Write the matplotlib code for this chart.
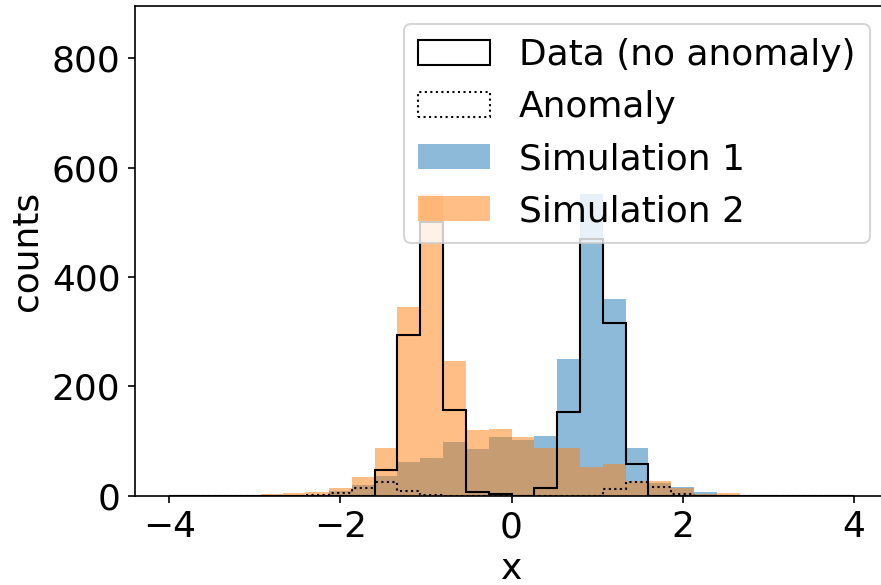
import numpy as np
import matplotlib
matplotlib.use("Agg")
import matplotlib.pyplot as plt

# 30 equal bins from -4 to 4
bin_edges = np.linspace(-4, 4, 31)

data_counts = [0, 0, 0, 0, 0, 0, 0, 0, 0, 47,
               294, 500, 157, 7, 2, 0, 13, 152, 470, 315,
               57, 0, 0, 0, 0, 0, 0, 0, 0, 0]
anomaly_counts = [0, 0, 0, 0, 0, 0, 1, 4, 14, 24,
                  9, 1, 0, 0, 0, 0, 0, 0, 0, 11,
                  25, 16, 3, 0, 0, 0, 0, 0, 0, 0]
sim1_counts = [0, 0, 0, 0, 0, 0, 1, 8, 19, 36,
               62, 68, 97, 85, 107, 101, 109, 250, 551, 360,
               87, 23, 15, 7, 1, 0, 0, 0, 0, 0]
sim2_counts = [0, 0, 0, 1, 2, 5, 6, 14, 34, 87,
               344, 552, 246, 119, 121, 107, 87, 87, 53, 57,
               26, 26, 13, 2, 4, 0, 0, 0, 0, 0]

labels = ["Data (no anomaly)", "Anomaly", "Simulation 1", "Simulation 2"]

plt.rcParams['font.size'] = 17.3

fig = plt.figure(figsize=(881/150, 585/150), dpi=150)
ax = fig.add_axes([135/881, 1 - 495.5/585, (888-135)/881, (495.5-5.7)/585])

centers = 0.5 * (bin_edges[:-1] + bin_edges[1:])

ax.hist(centers, bins=bin_edges, weights=data_counts, histtype='step',
        color='black', linewidth=1.0, label=labels[0], zorder=3)
ax.hist(centers, bins=bin_edges, weights=anomaly_counts, histtype='step',
        color='black', linestyle=':', linewidth=1.0, label=labels[1], zorder=3)
ax.hist(centers, bins=bin_edges, weights=sim1_counts, alpha=0.5,
        color='C0', label=labels[2])
ax.hist(centers, bins=bin_edges, weights=sim2_counts, alpha=0.5,
        color='C1', label=labels[3])

ax.set_xlim(-4.4, 4.4)
ax.set_ylim(0, 896)
ax.set_xlabel("x")
ax.set_ylabel("counts")
ax.legend(loc='upper right')

fig.savefig("out.png", dpi=150)
